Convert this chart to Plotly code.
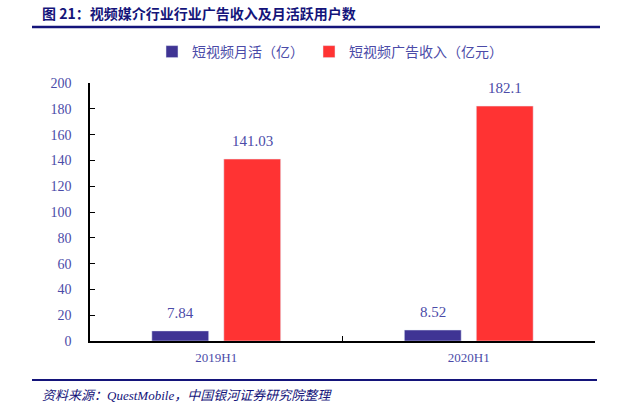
import plotly.graph_objects as go

categories = ["2019H1", "2020H1"]
mau = [7.84, 8.52]
ad_rev = [141.03, 182.1]
mau_labels = ["7.84", "8.52"]
rev_labels = ["141.03", "182.1"]
name_mau = "短视频月活（亿）"
name_rev = "短视频广告收入（亿元）"
y_ticks = list(range(0, 201, 20))

W, H = 627, 403
L, R, T, B = 90, 32, 83, 62
pw, ph = W - L - R, H - T - B

def px(x):
    return (x - L) / pw

def py(y):
    return 1 - (y - T) / ph

serif = "Liberation Serif, DejaVu Serif, Noto Sans CJK SC, serif"
cjk = "Noto Sans CJK SC, sans-serif"
blue = "#3F3494"
red = "#FF3333"
txt = "#4B4BA8"
navy = "#14147A"

fig = go.Figure()
fig.add_trace(go.Bar(x=categories, y=mau, name=name_mau, marker_color=blue))
fig.add_trace(go.Bar(x=categories, y=ad_rev, name=name_rev, marker_color=red))

anns = []
for i, c in enumerate(categories):
    anns.append(dict(x=c, y=mau[i], text=mau_labels[i], xref="x", yref="y",
                     xshift=-36, yshift=18, showarrow=False,
                     font=dict(family=serif, size=15, color=txt)))
    anns.append(dict(x=c, y=ad_rev[i], text=rev_labels[i], xref="x", yref="y",
                     xshift=36, yshift=18, showarrow=False,
                     font=dict(family=serif, size=15, color=txt)))

anns.append(dict(x=px(40), y=py(13), xref="paper", yref="paper", xanchor="left",
                 yanchor="middle", showarrow=False,
                 text="<b>图 21：视频媒介行业行业广告收入及月活跃用户数</b>",
                 font=dict(family=cjk, size=14, color=navy)))
anns.append(dict(x=px(40), y=py(395), xref="paper", yref="paper", xanchor="left",
                 yanchor="middle", showarrow=False,
                 text="<i>资料来源：QuestMobile，中国银河证券研究院整理</i>",
                 font=dict(family=serif, size=13, color=navy)))

shapes = [
    dict(type="line", xref="paper", yref="paper", x0=px(32), x1=px(600),
         y0=py(27), y1=py(27), line=dict(color=navy, width=2.5)),
    dict(type="line", xref="paper", yref="paper", x0=px(32), x1=px(597),
         y0=py(380), y1=py(380), line=dict(color=navy, width=2)),
]

fig.update_layout(
    width=W, height=H,
    margin=dict(l=L, r=R, t=T, b=B),
    paper_bgcolor="white", plot_bgcolor="white",
    barmode="group", bargap=0.43, bargroupgap=0.21,
    showlegend=True,
    legend=dict(orientation="h", x=px(330), xanchor="center", y=py(52), yanchor="middle",
                font=dict(family=cjk, size=14, color=txt), itemwidth=30,
                traceorder="normal"),
    annotations=anns, shapes=shapes,
    xaxis=dict(showline=True, linecolor="black", linewidth=1.5, ticks="inside",
               tickson="boundaries", ticklen=5, tickcolor="black",
               tickfont=dict(family=serif, size=13, color=txt), showgrid=False,
               ticklabelstandoff=4),
    yaxis=dict(range=[0, 200], tickvals=y_ticks, showline=True, linecolor="black",
               linewidth=1.5, ticks="inside", ticklen=5, tickcolor="black",
               tickfont=dict(family=serif, size=14, color=txt), showgrid=False,
               zeroline=False, ticklabelstandoff=14),
)

fig.write_html("out.html", config={"displayModeBar": False},
               post_script="document.body.style.margin='0';document.body.style.padding='0';")
